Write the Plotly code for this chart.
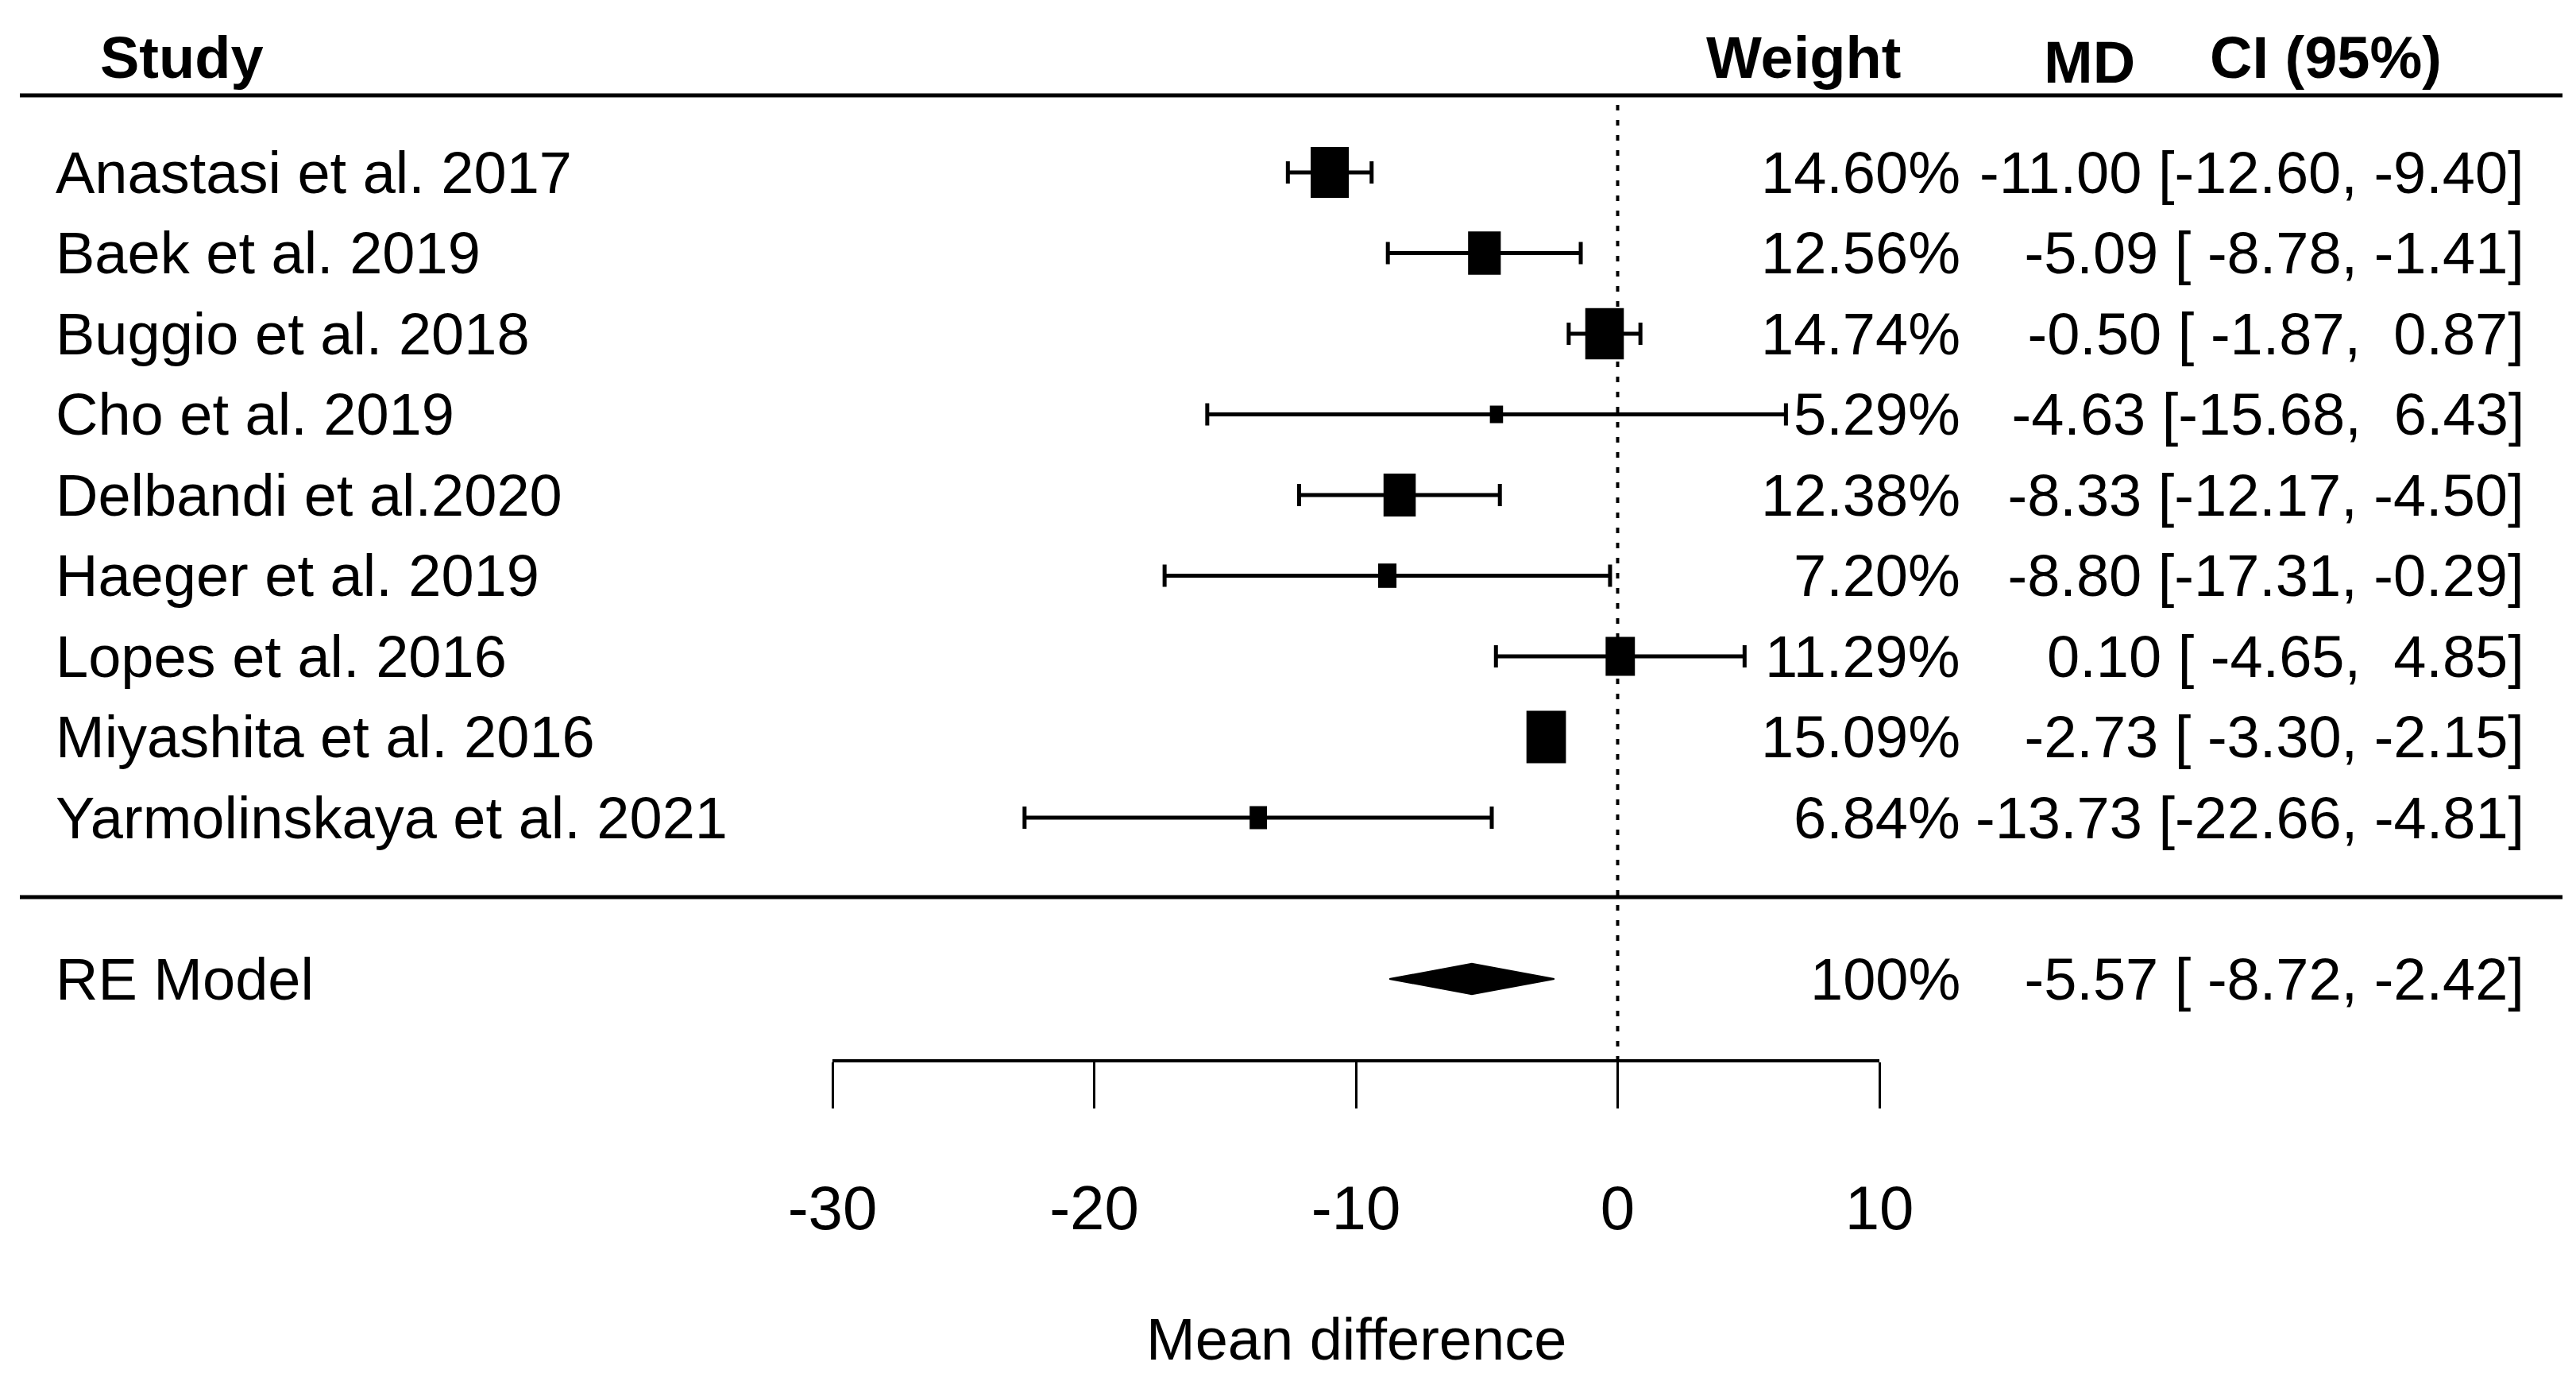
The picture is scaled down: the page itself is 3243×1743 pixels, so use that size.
import plotly.graph_objects as go

# ---------------- data ----------------
studies = ["Anastasi et al. 2017", "Baek et al. 2019", "Buggio et al. 2018", "Cho et al. 2019",
           "Delbandi et al.2020", "Haeger et al. 2019", "Lopes et al. 2016", "Miyashita et al. 2016",
           "Yarmolinskaya et al. 2021"]
md = [-11.00, -5.09, -0.50, -4.63, -8.33, -8.80, 0.10, -2.73, -13.73]
ci_lo = [-12.60, -8.78, -1.87, -15.68, -12.17, -17.31, -4.65, -3.30, -22.66]
ci_hi = [-9.40, -1.41, 0.87, 6.43, -4.50, -0.29, 4.85, -2.15, -4.81]
weights = [14.60, 12.56, 14.74, 5.29, 12.38, 7.20, 11.29, 15.09, 6.84]
re_label = "RE Model"
re_est, re_lo, re_hi = -5.57, -8.72, -2.42
re_weight = "100%"
x_ticks = [-30, -20, -10, 0, 10]
headers = ["Study", "Weight", "MD", "CI (95%)"]
x_title = "Mean difference"

# ---------------- geometry helpers (reference pixel frame) ----------------
W, H = 3243, 1743
ROW1_PX, ROW_PX = 217.0, 101.5


def k_of(px):
    return 1 + (px - ROW1_PX) / ROW_PX


def px_x(px):
    return px / W


FONT = "Liberation Sans, Arial, Helvetica, sans-serif"
FS = 74

n = len(studies)
rows = list(range(1, n + 1))
re_row = n + 2

fig = go.Figure()

# CI lines with caps (error bars)
fig.add_trace(go.Scatter(
    x=md, y=rows, mode="markers",
    marker=dict(size=2, color="black"),
    error_x=dict(type="data", symmetric=False,
                 array=[h - m for h, m in zip(ci_hi, md)],
                 arrayminus=[m - l for m, l in zip(md, ci_lo)],
                 color="black", thickness=5, width=14),
    hoverinfo="skip", showlegend=False))

# squares sized by weight (metafor style: psize 0.5..1.5)
wmin, wmax = min(weights), max(weights)
for m, k, w in zip(md, rows, weights):
    ps = 0.5 + (w - wmin) / (wmax - wmin)
    hw = 0.503 * ps
    hh = 0.217 * ps
    fig.add_trace(go.Scatter(
        x=[m - hw, m + hw, m + hw, m - hw, m - hw],
        y=[k - hh, k - hh, k + hh, k + hh, k - hh],
        mode="lines", fill="toself", fillcolor="black",
        line=dict(color="black", width=0), hoverinfo="skip", showlegend=False))

# summary diamond
dh = 0.19
fig.add_trace(go.Scatter(
    x=[re_lo, re_est, re_hi, re_est, re_lo],
    y=[re_row, re_row - dh, re_row, re_row + dh, re_row],
    mode="lines", fill="toself", fillcolor="black",
    line=dict(color="black", width=2), hoverinfo="skip", showlegend=False))

shapes = [
    dict(type="line", xref="x", yref="y", x0=0, x1=0, y0=k_of(132), y1=k_of(1335),
         line=dict(color="black", width=4, dash="7px,12px"), layer="below"),
    dict(type="line", xref="paper", yref="y", x0=px_x(25), x1=px_x(3226), y0=k_of(120), y1=k_of(120),
         line=dict(color="black", width=5)),
    dict(type="line", xref="paper", yref="y", x0=px_x(25), x1=px_x(3226), y0=k_of(1129), y1=k_of(1129),
         line=dict(color="black", width=5)),
]

annotations = []


def add_text(text, x, y, anchor="left", bold=False, size=FS):
    annotations.append(dict(
        text=f"<b>{text}</b>" if bold else text, x=x, y=y, xref="paper", yref="y",
        xanchor=anchor, yanchor="middle", showarrow=False,
        font=dict(family=FONT, size=size, color="black")))


hk = k_of(72)
add_text(headers[0], px_x(124), hk, "left", True)
add_text(headers[1], px_x(2270), hk, "center", True)
add_text(headers[2], px_x(2630), k_of(78), "center", True)
add_text(headers[3], px_x(2928), hk, "center", True)


def fmt_col(vals):
    s = [f"{v:.2f}" for v in vals]
    wd = max(len(t) for t in s)
    return [t.rjust(wd) for t in s]


all_md = md + [re_est]
all_lo = ci_lo + [re_lo]
all_hi = ci_hi + [re_hi]
c_md, c_lo, c_hi = fmt_col(all_md), fmt_col(all_lo), fmt_col(all_hi)
ci_text = [f"{a} [{b}, {c}]".replace(" ", "\u00a0") for a, b, c in zip(c_md, c_lo, c_hi)]

WEIGHT_RIGHT = 2470
for i, (name, k, w) in enumerate(zip(studies, rows, weights)):
    add_text(name, px_x(68), k, "left")
    add_text(f"{w:.2f}%", px_x(WEIGHT_RIGHT), k, "right")
    add_text(ci_text[i], px_x(3180), k, "right")

add_text(re_label, px_x(68), re_row, "left")
add_text(re_weight, px_x(WEIGHT_RIGHT), re_row, "right")
add_text(ci_text[-1], px_x(3180), re_row, "right")

add_text(x_title, px_x(1707), k_of(1685), "center")

fig.update_layout(
    template="none",
    width=W, height=H, autosize=False,
    margin=dict(l=0, r=0, t=0, b=0, pad=0, autoexpand=False),
    paper_bgcolor="white", plot_bgcolor="white",
    showlegend=False,
    shapes=shapes, annotations=annotations,
    xaxis=dict(domain=[1048 / W, 2366 / W], range=[-30, 10],
               anchor="free", position=1 - 1335 / H, automargin=False,
               showline=True, linecolor="black", linewidth=4,
               ticks="outside", ticklen=58, tickwidth=3, tickcolor="black",
               tickvals=x_ticks, ticktext=[str(t) for t in x_ticks],
               ticklabelstandoff=58,
               tickfont=dict(family=FONT, size=FS + 4, color="black"),
               showgrid=False, zeroline=False, fixedrange=True),
    yaxis=dict(domain=[0, 1], range=[k_of(H), k_of(0)], visible=False, automargin=False,
               showgrid=False, zeroline=False, fixedrange=True),
)

fig.write_html("out.html", config=dict(displayModeBar=False, staticPlot=True),
               post_script="document.body.style.margin='0';document.body.style.overflow='hidden';")
